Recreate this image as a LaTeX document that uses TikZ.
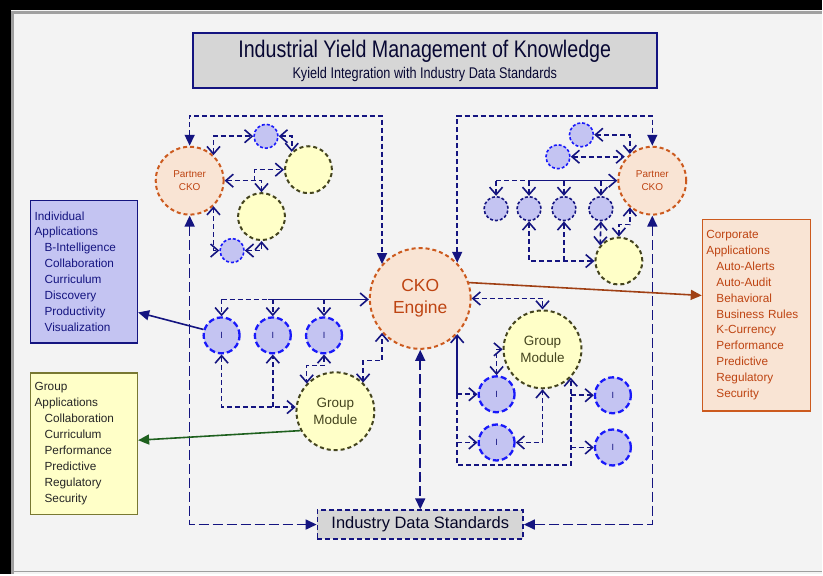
\documentclass[tikz,border=0pt]{standalone}
\usepackage{fontspec}
\setmainfont{Liberation Sans}
\newfontfamily\narrowfont[FakeStretch=0.82]{Liberation Sans}
\usepackage{tikz}
\usetikzlibrary{positioning,calc,arrows.meta}

\definecolor{navy}{RGB}{20,20,128}
\definecolor{brite}{RGB}{25,25,250}
\definecolor{lav}{RGB}{196,196,242}
\definecolor{cream}{RGB}{255,255,200}
\definecolor{olive}{RGB}{68,68,30}
\definecolor{khaki}{RGB}{120,120,50}
\definecolor{peach}{RGB}{249,228,212}
\definecolor{rust}{RGB}{204,90,30}
\definecolor{rusttxt}{RGB}{190,68,18}
\definecolor{bgray}{RGB}{243,243,243}
\definecolor{boxgray}{RGB}{214,214,214}
\definecolor{leaf}{RGB}{30,96,30}
\definecolor{brn}{RGB}{160,64,20}
\newcommand{\appitem}{\hspace*{10pt}}

\begin{document}
\begin{tikzpicture}[x=1pt,y=-1pt,
    >={Straight Barb[length=7.5pt,width=13pt]},
    fat/.style={arrows={Triangle[length=11pt,width=10pt]-Triangle[length=11pt,width=10pt]}},
    tip/.style={arrows={-Triangle[length=11pt,width=10pt]}},
    dl/.style={draw=navy,line width=1.6pt,dash pattern=on 5pt off 3pt},
    ld/.style={dl,fat,dash pattern=on 10pt off 4pt},
    sl/.style={draw=navy,line width=1.6pt},
    cko/.style={circle,draw=rust,fill=peach,line width=2pt,dash pattern=on 4pt off 3pt,inner sep=0pt,text=rusttxt,align=center},
    grp/.style={circle,draw=olive,fill=cream,line width=2pt,dash pattern=on 4pt off 3pt,inner sep=0pt,text=olive,align=center},
    ind/.style={circle,draw=brite,fill=lav,line width=2.3pt,dash pattern=on 6pt off 3pt,inner sep=0pt,minimum size=36pt,text=navy,font=\fontsize{9}{9}\selectfont},
    dot/.style={circle,fill=lav,line width=1.6pt,dash pattern=on 3pt off 2pt,inner sep=0pt,minimum size=24pt},
    app/.style={line width=1.4pt,anchor=north west,align=left,inner xsep=4pt,inner ysep=0pt,font=\fontsize{11.8}{16}\selectfont}
  ]
  \fill[black] (0,0) rectangle (823,575);
  \fill[bgray] (11,10) rectangle (823,575);
  \draw[gray!75,line width=3pt] (12.5,575) -- (12.5,12.5) -- (823,12.5);
  \draw[gray!75,line width=1.5pt] (11,572.5) -- (823,572.5);

  \node[draw=navy,fill=boxgray,line width=2pt,minimum width=465pt,minimum height=55pt] (ttl) at (425.5,60.5) {};
  \node[anchor=base,text=navy!40!black,font=\narrowfont\fontsize{24}{24}\selectfont] (t1) at (425.5,58) {Industrial Yield Management of Knowledge};
  \node[anchor=base,text=navy!40!black,font=\narrowfont\fontsize{15.5}{16}\selectfont] (t2) at (425.5,79) {Kyield Integration with Industry Data Standards};

  \node[cko,minimum size=101pt,font=\fontsize{17.5}{22}\selectfont] (eng) at (421,299) {CKO\\Engine};
  \node[cko,minimum size=68pt,font=\fontsize{10}{13}\selectfont] (pl) at (190,181) {Partner\\CKO};
  \node[cko,minimum size=68pt,font=\fontsize{10}{13}\selectfont] (pr) at (653.5,181) {Partner\\CKO};

  \node[dot,draw=brite] (b1) at (266.5,136.5) {};
  \node[grp,minimum size=47pt] (y1) at (309,170) {};
  \node[grp,minimum size=47pt] (y2) at (262,217) {};
  \node[dot,draw=brite] (b2) at (232.5,251) {};

  \node[ind] (i1) at (222,336) {I};
  \node[ind,right=13pt of i1] (i2) {I};
  \node[ind,right=13pt of i2] (i3) {I};
  \node[grp,minimum size=78pt,font=\fontsize{13.5}{17}\selectfont] (gl) at (336,412) {Group\\Module};

  \node[dot,draw=brite] (a1) at (582.5,135) {};
  \node[dot,draw=brite] (a2) at (559,157) {};
  \node[dot,draw=navy] (r1) at (497,209) {};
  \node[dot,draw=navy] (r2) at (530,209) {};
  \node[dot,draw=navy] (r3) at (565,209) {};
  \node[dot,draw=navy] (r4) at (602,209) {};
  \node[grp,minimum size=47pt] (yr) at (620,261.5) {};

  \node[grp,minimum size=78pt,font=\fontsize{13.5}{17}\selectfont] (gr) at (543.5,350) {Group\\Module};
  \node[ind] (c1) at (497.5,395) {I};
  \node[ind,below=10pt of c1] (c2) {I};
  \node[ind] (c3) at (614,396) {I};
  \node[ind,below=14pt of c3] (c4) {I};

  \node[draw=navy,fill=boxgray,line width=1.6pt,dash pattern=on 5pt off 3pt,minimum width=206pt,minimum height=29pt,font=\fontsize{16.5}{16.5}\selectfont,text=navy!30!black] (ids) at (421,525.5) {Industry Data Standards};

  \node[app,draw=navy,fill=lav,text=navy,text width=99pt,minimum height=143pt] (ia) at (30,200) {Individual\\Applications\\\appitem B-Intelligence\\\appitem Collaboration\\\appitem Curriculum\\\appitem Discovery\\\appitem Productivity\\\appitem Visualization};
  \node[app,draw=khaki,fill=cream,text=black!85,text width=99pt,minimum height=142pt] (ga) at (30,373) {Group\\Applications\\\appitem Collaboration\\\appitem Curriculum\\\appitem Performance\\\appitem Predictive\\\appitem Regulatory\\\appitem Security};
  \node[app,draw=rust,fill=peach,text=rusttxt,text width=100pt,minimum height=192pt] (ca) at (703,219) {Corporate\\Applications\\\appitem Auto-Alerts\\\appitem Auto-Audit\\\appitem Behavioral\\\appitem Business Rules\\\appitem K-Currency\\\appitem Performance\\\appitem Predictive\\\appitem Regulatory\\\appitem Security};

  \draw[dl,fat] (pl.north) |- (eng.138 |- 0,116) -- (eng.138);
  \draw[dl,<->] (pl.47) |- (b1.west);
  \draw[dl,<->] (b1.east) -| (y1.133);
  \draw[dl,<->] (pl.east) -| (y2.north);
  \coordinate (k1) at (255,181);
  \draw[dl,->] (k1) |- (y1.west);
  \draw[dl,<->] (pl.-47) |- (b2.west);
  \draw[dl,<->] (b2.east) -| (y2.south);
  \draw[ld] (pl.south) |- (ids.west);

  \coordinate (h1) at (268,300);
  \draw[dl] (i1.north |- h1) -- (h1);
  \draw[sl,->] (h1) -- (eng.west |- h1);
  \foreach \n in {i1,i2,i3} \draw[dl,->] (\n.north |- h1) -- (\n.north);
  \draw[dl,<->] (i1.south) |- (gl.174);
  \draw[dl,->] (i2.south |- gl.174) -- (i2.south);
  \draw[dl,<->] (i3.south) -- ++(0,11) -| (gl.136);
  \draw[dl,<->] (gl.46) -- ++(0,-22) -| (eng.222);
  \draw[ld] (eng.south) -- (ids.north);

  \draw[dl,fat] (eng.44) |- (pr.north |- 0,116) -- (pr.north);
  \draw[dl,<->] (a1.east) -| (pr.130);
  \draw[dl,<->] (a2.east) -- (a2.east -| pr.142);
  \coordinate (h2) at (530,181);
  \draw[dl] (r1.north |- h2) -- (h2);
  \draw[sl,->] (h2) -- (pr.west);
  \foreach \n in {r1,r2,r3,r4} \draw[dl,->] (\n.north |- h2) -- (\n.north);
  \draw[dl,<->] (r2.south) |- (yr.west);
  \draw[dl,->] (r3.south |- yr.west) -- (r3.south);
  \draw[dl,<->] (r4.south) -- (yr.140);
  \draw[dl,<->] (yr.north) -- ++(0,-12) -| (pr.-130);
  \draw[ld] (pr.south) |- (ids.east);

  \draw[dl,<->] (eng.east) -| (gr.north);
  \draw[sl,->] (c1.west -| eng.-44) -- (eng.-44);
  \draw[dl,->] (c1.west -| eng.-44) -- (c1.west);
  \draw[dl,->] (c2.west -| eng.-44) -- (c2.west);
  \draw[dl,->] (c1.west -| eng.-44) -- (eng.-44 |- 0,466) -| (gr.-45);
  \foreach \n in {c3,c4} \draw[dl,->] (\n.west -| gr.-45) -- (\n.west);
  \draw[dl,<->] (gr.west) -| (c1.north);
  \draw[dl,<->] (c2.east) -| (gr.south);

  \draw[sl,tip] (i1.162) -- (ia.east |- 0,313);
  \draw[leaf,line width=1.6pt,tip] (gl.209) -- (ga.east |- 0,441);
  \draw[brn,line width=1.6pt,tip] (eng.18) -- (ca.west |- 0,296);
\end{tikzpicture}
\end{document}
